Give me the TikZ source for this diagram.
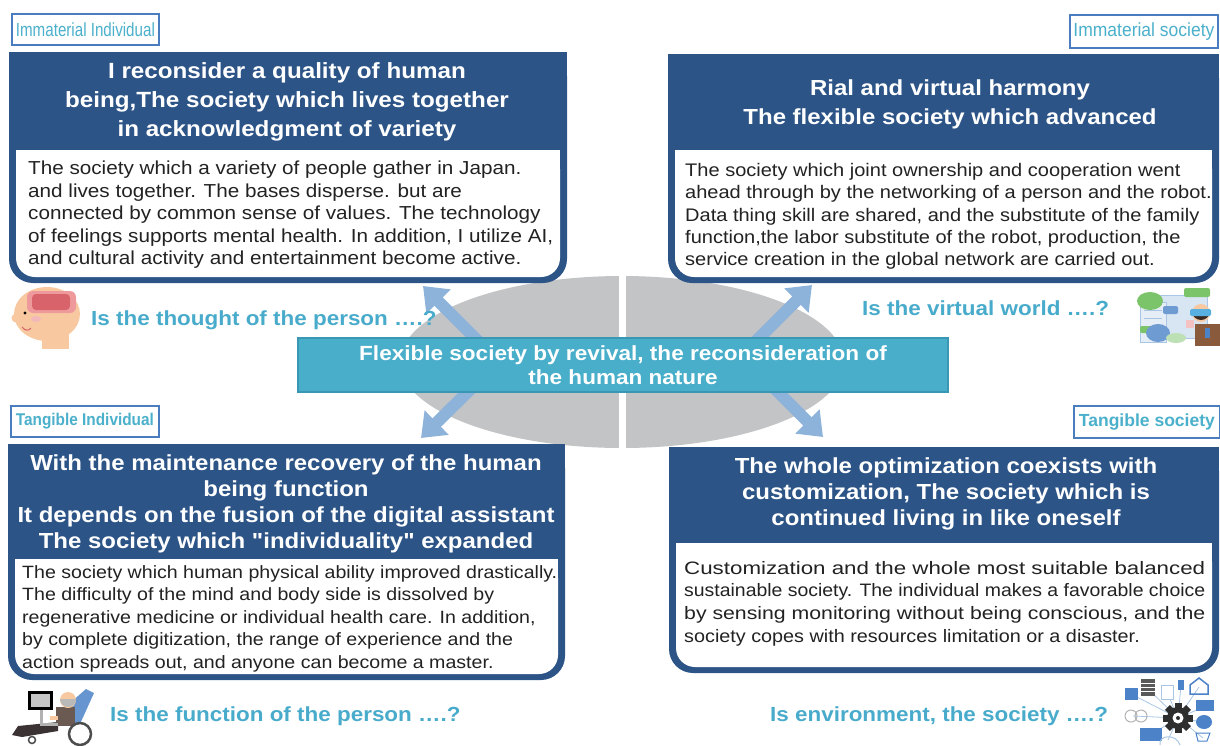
\documentclass[tikz,border=0pt]{standalone}
\usepackage{fontspec}
\usepackage{graphicx}
\setmainfont[FakeStretch=1.1,Ligatures=TeXOff]{Liberation Sans}
\usetikzlibrary{arrows.meta}

\definecolor{hdr}{HTML}{2C5487}
\definecolor{bodyc}{HTML}{222222}
\definecolor{tagtext}{HTML}{4BB0CB}
\definecolor{tagborder}{HTML}{4A7CC0}
\definecolor{qcol}{HTML}{49ABCB}
\definecolor{bannerc}{HTML}{48AEC9}
\definecolor{bannerline}{HTML}{3A97B3}
\definecolor{arrowc}{HTML}{8DB3DB}
\definecolor{ellc}{HTML}{C3C4C6}
\definecolor{skin}{HTML}{F8C9A0}
\definecolor{brainlt}{HTML}{EE9A9C}
\definecolor{braindk}{HTML}{D8636B}
\definecolor{iconblue}{HTML}{4B82C8}
\definecolor{iconlt}{HTML}{A9C6E4}
\definecolor{icongreen}{HTML}{7CC46A}
\definecolor{gearc}{HTML}{2E2E2E}
\definecolor{jacket}{HTML}{8A5A3C}
\definecolor{hair}{HTML}{3A2C25}
\definecolor{goggle}{HTML}{57B0E0}
\definecolor{trousers}{HTML}{3B3333}
\definecolor{cardigan}{HTML}{6B5A52}

% fit a text line to a given width, keeping its height
\newcommand{\fitwidth}[2]{\resizebox{#1}{\height}{#2}}

% panel: dark header with square top, white body, rounded bottom corners
% args: x1, y1, x2, y2, top of white body
\newcommand{\panel}[5]{%
  \fill[hdr,rounded corners=24pt] (#1,#2) rectangle (#3,#4);
  \fill[hdr] (#1,#2) rectangle (#3,#2+40);
  \fill[white,rounded corners=19pt] (#1+7,#5) rectangle (#3-7,#4-6);
  \fill[white] (#1+7,#5) rectangle (#3-7,#5+30);
}

\tikzset{
  titletext/.style={text=white, font=\bfseries\fontsize{22}{29}\selectfont,
    align=center, inner sep=0pt},
  bodytext/.style={text=bodyc, font=\fontsize{18.2}{22.4}\selectfont,
    align=left, inner sep=0pt, anchor=north west},
  tagbox/.style={draw=tagborder, line width=1.8pt, fill=white, text=tagtext,
    inner sep=0pt, anchor=north west},
  question/.style={text=qcol, font=\bfseries\fontsize{20.4}{24}\selectfont,
    anchor=west, inner sep=0pt},
  banner/.style={fill=bannerc, draw=bannerline, line width=1.5pt, text=white,
    font=\bfseries\fontsize{20.5}{24}\selectfont, align=center, inner sep=0pt},
  linkarrow/.style={draw=arrowc, line width=12pt,
    -{Triangle[length=22pt,width=33pt]}},
}

\begin{document}
\begin{tikzpicture}[x=1pt,y=-1pt]
\useasboundingbox (0,0) rectangle (1220,745);

% central grey ellipse split in two halves
\fill[ellc] (622,362) ellipse [x radius=222, y radius=86];
\draw[white,line width=7pt] (622,265) -- (622,460);

% arrows radiating from the hub towards the four quadrants
\coordinate (sTL) at (490,353);
\coordinate (sTR) at (744,353);
\coordinate (sBL) at (489,371);
\coordinate (sBR) at (757,371);
\coordinate (eTL) at (423,286);
\coordinate (eTR) at (812,285);
\coordinate (eBL) at (421,438);
\coordinate (eBR) at (823,437);
\draw[linkarrow] (sTL) -- (eTL);
\draw[linkarrow] (sTR) -- (eTR);
\draw[linkarrow] (sBL) -- (eBL);
\draw[linkarrow] (sBR) -- (eBR);

% hub banner
\node[banner, minimum width=650pt, minimum height=54pt] (hub) at (623,365)
  {Flexible society by revival, the reconsideration of\\the human nature};

% ---- top left quadrant ----
\panel{9}{52}{567}{283}{150}
\node[titletext] (titleTL) at (287,102)
  {I reconsider a quality of human\\being,The society which lives together\\in acknowledgment of variety};
\node[bodytext, font=\fontsize{18.8}{22.4}\selectfont] (bodyTL) at (28,161)
  {The society which a variety of people gather in Japan.\\
   and lives together. The bases disperse. but are\\
   connected by common sense of values. The technology\\
   of feelings supports mental health. In addition, I utilize AI,\\
   and cultural activity and entertainment become active.};

% ---- top right quadrant ----
\panel{668}{54}{1219}{283}{150}
\node[titletext, font=\bfseries\fontsize{21.8}{29}\selectfont] (titleTR) at (950,104)
  {Rial and virtual harmony\\The flexible society which advanced};
\node[bodytext] (bodyTR) at (685,163)
  {The society which joint ownership and cooperation went\\
   ahead through by the networking of a person and the robot.\\
   Data thing skill are shared, and the substitute of the family\\
   function,the labor substitute of the robot, production, the\\
   service creation in the global network are carried out.};

% ---- bottom left quadrant ----
\panel{8}{444}{565}{680}{559}
\node[titletext, font=\bfseries\fontsize{21.8}{26}\selectfont] (titleBL) at (286,504)
  {With the maintenance recovery of the human\\being function\\It depends on the fusion of the digital assistant\\The society which "individuality" expanded};
\node[bodytext, font=\fontsize{17.8}{22.5}\selectfont] (bodyBL) at (22,565)
  {The society which human physical ability improved drastically.\\
   The difficulty of the mind and body side is dissolved by\\
   regenerative medicine or individual health care. In addition,\\
   by complete digitization, the range of experience and the\\
   action spreads out, and anyone can become a master.};

% ---- bottom right quadrant ----
\panel{669}{447}{1219}{673}{543}
\node[titletext, font=\bfseries\fontsize{21.8}{26}\selectfont] (titleBR) at (946,494)
  {The whole optimization coexists with\\customization, The society which is\\continued living in like oneself};
\node[bodytext, font=\fontsize{18}{22.6}\selectfont] (bodyBR) at (684,561)
  {\fitwidth{521pt}{Customization and the whole most suitable balanced}\\
   \fitwidth{521pt}{sustainable society. The individual makes a favorable choice}\\
   \fitwidth{521pt}{by sensing monitoring without being conscious, and the}\\
   society copes with resources limitation or a disaster.};

% ---- quadrant tags ----
\node[tagbox, minimum width=147pt, minimum height=31pt] (tagTL) at (11,13)
  {\fontsize{19}{19}\selectfont\fitwidth{139pt}{Immaterial Individual}};
\node[tagbox, minimum width=148pt, minimum height=33pt] (tagTR) at (1069,14)
  {\fontsize{19}{19}\selectfont\fitwidth{141pt}{Immaterial society}};
\node[tagbox, minimum width=148pt, minimum height=31pt] (tagBL) at (10,405)
  {\bfseries\fontsize{17}{17}\selectfont\fitwidth{138pt}{Tangible Individual}};
\node[tagbox, minimum width=146pt, minimum height=32pt] (tagBR) at (1073,405)
  {\bfseries\fontsize{17.5}{17.5}\selectfont\fitwidth{136pt}{Tangible society}};

% ---- guiding questions ----
\node[question] (qTL) at (91,320) {Is the thought of the person ….?};
\node[question] (qTR) at (862,308) {Is the virtual world ….?};
\node[question] (qBL) at (110,716) {Is the function of the person ….?};
\node[question] (qBR) at (770,716) {Is environment, the society ….?};

% ---- icon: head with brain ----
\fill[skin] (47,314) ellipse [x radius=33, y radius=27];
\fill[skin] (42,326) rectangle (69,349);
\fill[skin] (16,318) circle (4.5);
\fill[brainlt,rounded corners=6pt] (27,291) rectangle (76,313);
\fill[braindk,rounded corners=4pt] (32,294) rectangle (70,310);
\fill[black] (25,313) circle (1.7);
\fill[brainlt!70] (36,319) ellipse [x radius=5, y radius=3];
\draw[braindk,line width=1pt] (22,327) .. controls (25,331) and (29,331) .. (31,328);

% ---- icon: virtual world ----
\fill[iconlt!45] (1160,295) rectangle (1207,338);
\draw[iconlt,line width=1pt] (1160,295) rectangle (1207,338);
\fill[iconlt!30] (1140,302) rectangle (1166,342);
\draw[iconlt,line width=0.8pt] (1140,302) rectangle (1166,342);
\foreach \yy in {310,318,326} {\draw[iconlt,line width=0.8pt] (1144,\yy) -- (1162,\yy);}
\fill[icongreen] (1150,301) ellipse [x radius=13, y radius=9];
\fill[icongreen,rounded corners=2pt] (1184,288) rectangle (1210,297);
\fill[icongreen,rounded corners=2pt] (1140,326) rectangle (1155,333);
\fill[iconblue!80] (1158,333) ellipse [x radius=12, y radius=9];
\fill[iconblue!80,rounded corners=2pt] (1163,306) rectangle (1178,314);
\fill[icongreen!50] (1176,338) ellipse [x radius=10, y radius=5];
\fill[brainlt!60] (1186,320) rectangle (1194,328);
\fill[jacket] (1195,324) rectangle (1220,346);
\fill[skin] (1201,313) circle (9);
\fill[hair] (1192,311) arc (180:0:9) -- cycle;
\fill[goggle,rounded corners=1.5pt] (1190,309) rectangle (1211,316);
\fill[iconblue] (1205,328) rectangle (1210,338);

% ---- icon: person in wheelchair ----
\fill[iconblue!85] (70,703) -- (86,689) -- (94,693) -- (80,724) -- (62,724) -- cycle;
\fill[trousers] (58,722) -- (18,726) -- (12,735) -- (22,737) -- (58,731) -- cycle;
\fill[cardigan] (56,707) rectangle (75,726);
\fill[skin] (68,700) circle (8);
\fill[gray!55] (60,699) arc (180:0:8) -- cycle;
\fill[skin] (50,716) rectangle (58,720);
\fill[gray!60] (40,709) rectangle (43,726);
\fill[gray!60] (40,723) rectangle (58,726);
\fill[black] (28,691) rectangle (53,710);
\fill[gray!45] (31,694) rectangle (50,707);
\draw[gray!60!black,line width=2.5pt] (80,734) circle (11);
\draw[gray!60!black,line width=1.5pt] (32,740) circle (3.5);

% ---- icon: connected environment ----
\foreach \px/\py in {1131/694, 1147/688, 1167/692, 1181/685, 1199/687,
                     1204/707, 1203/722, 1203/738, 1168/740, 1150/735, 1133/716}
  {\draw[iconlt,line width=0.8pt] (1178,718) -- (\px,\py);}
\fill[iconblue] (1125,688) rectangle (1138,700);
\fill[gray!70!black] (1141,679) rectangle (1155,696);
\foreach \yy in {683,687,691} {\draw[white,line width=0.7pt] (1141,\yy) -- (1155,\yy);}
\fill[white] (1161,685) rectangle (1173,699);
\draw[iconlt,line width=1pt] (1161,685) rectangle (1173,699);
\fill[iconblue] (1178,680) rectangle (1184,690);
\draw[iconblue,line width=1.5pt] (1190,694) -- (1190,685) -- (1199,678) -- (1208,685) -- (1208,694) -- cycle;
\fill[iconblue] (1196,700) rectangle (1214,711);
\fill[iconblue] (1204,722) ellipse [x radius=8, y radius=7];
\draw[iconblue,line width=1pt] (1196,733) -- (1210,733) -- (1207,741) -- (1198,741) -- cycle;
\fill[iconblue] (1140,728) rectangle (1162,741);
\draw[iconlt,line width=1pt] (1160,745) .. controls (1158,735) and (1176,733) .. (1180,745);
\draw[gray!60,line width=1pt] (1131,716) circle (6);
\draw[gray!60,line width=1pt] (1141,716) circle (6);
\foreach \a in {0,45,...,315}
  {\fill[gearc,rotate around={\a:(1178,718)}] (1174.5,703) rectangle (1181.5,709);}
\fill[gearc] (1178,718) circle (11);
\fill[white] (1178,718) circle (5.5);
\fill[gearc] (1178,718) circle (2);
\end{tikzpicture}
\end{document}
